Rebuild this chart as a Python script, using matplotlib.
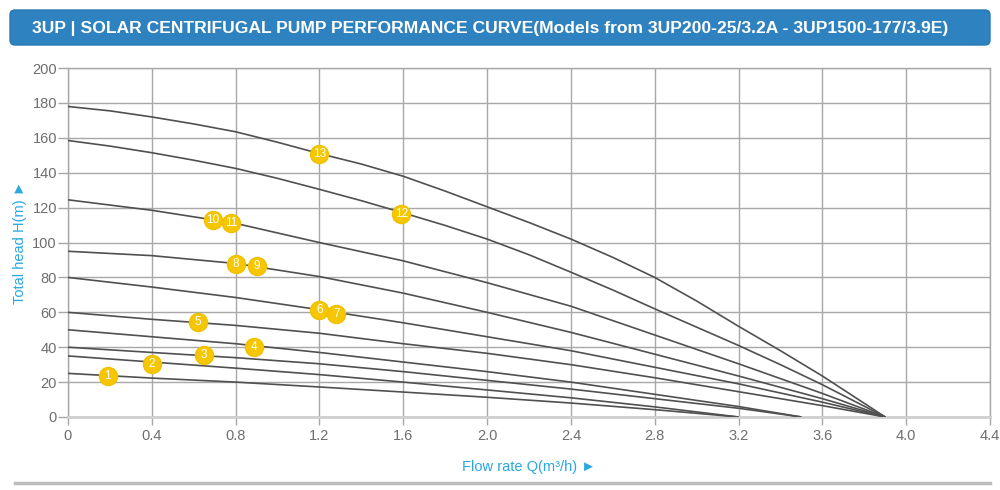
import matplotlib
matplotlib.use("Agg")
import matplotlib.pyplot as plt
from matplotlib.patches import FancyBboxPatch

# flow rate (m3/h) points at which the curves were read
q_39_fine = [0, 0.2, 0.4, 0.6, 0.8, 1.0, 1.2, 1.4, 1.6, 1.8, 2.0, 2.2, 2.4,
             2.6, 2.8, 3.0, 3.2, 3.4, 3.6, 3.9]
q_39 = [0, 0.4, 0.8, 1.2, 1.6, 2.0, 2.4, 2.8, 3.2, 3.6, 3.9]
q_35 = [0, 0.4, 0.8, 1.2, 1.6, 2.0, 2.4, 2.8, 3.2, 3.5]
q_32 = [0, 0.4, 0.8, 1.2, 1.6, 2.0, 2.4, 2.8, 3.2]

# total head (m) of each curve
head_177 = [178, 175.5, 172, 168, 163.5, 157.5, 151, 145, 138, 129.5, 120.5,
            111.5, 102, 91.5, 80, 66.5, 52, 38, 23.5, 0]
head_159 = [158.5, 155.3, 151.5, 147.2, 142.5, 136.8, 130.5, 124, 117, 109.8,
            102, 93, 83, 72.8, 62, 51.5, 41, 30, 18.5, 0]
head_125 = [124.5, 118.5, 111, 100, 89.5, 77, 63.5, 47, 30.5, 13.5, 0]
head_95 = [95, 92.5, 88, 80.5, 71, 60, 48.5, 36, 23.5, 10.5, 0]
head_80 = [80, 74.5, 68.5, 61.5, 54, 46, 38, 28.5, 19, 8.5, 0]
head_60 = [60, 56, 52.5, 48, 42, 36.5, 30, 22.5, 14.5, 6.5, 0]
head_50 = [50, 46, 42, 37, 31.5, 26, 20, 13, 6, 0]
head_40 = [40, 37, 34, 30.5, 26, 21, 16, 10.5, 5, 0]
head_35 = [35, 31.5, 28, 24.3, 20, 15.5, 11, 5.8, 0]
head_25 = [25, 22.3, 20, 17.2, 14.3, 11.3, 8, 4.2, 0]

curves = [
    (q_39_fine, head_177), (q_39_fine, head_159), (q_39, head_125), (q_39, head_95),
    (q_39, head_80), (q_39, head_60), (q_35, head_50), (q_35, head_40),
    (q_32, head_35), (q_32, head_25),
]

# model number badges
badge_num = [1, 2, 3, 4, 5, 6, 7, 8, 9, 10, 11, 12, 13]
badge_q = [0.19, 0.40, 0.65, 0.89, 0.62, 1.20, 1.28, 0.80, 0.90, 0.69, 0.78, 1.59, 1.20]
badge_h = [23.3, 30.1, 35.7, 40.0, 54.3, 61.4, 59.0, 87.7, 86.7, 112.8, 111.0, 116.6, 151.0]

x_ticks = [0, 0.4, 0.8, 1.2, 1.6, 2.0, 2.4, 2.8, 3.2, 3.6, 4.0, 4.4]
x_labels = ["0", "0.4", "0.8", "1.2", "1.6", "2.0", "2.4", "2.8", "3.2", "3.6", "4.0", "4.4"]
y_ticks = list(range(0, 201, 20))

title = "3UP | SOLAR CENTRIFUGAL PUMP PERFORMANCE CURVE(Models from 3UP200-25/3.2A - 3UP1500-177/3.9E)"

fonts = ["Liberation Sans", "DejaVu Sans"]
plt.rcParams["font.family"] = fonts

fig = plt.figure(figsize=(10, 4.9), dpi=100)

# background layer in pixel coordinates
bg = fig.add_axes([0, 0, 1, 1])
bg.set_xlim(0, 1000)
bg.set_ylim(490, 0)
bg.axis("off")
bg.add_patch(FancyBboxPatch((10, 10), 980, 35, boxstyle="round,pad=0,rounding_size=5",
                            fc="#2e82c0", ec="#2a78b2", lw=1))
bg.text(32, 28, title, color="white", fontsize=12.6, fontweight="bold",
        va="center", ha="left")
bg.plot([15, 990], [483, 483], color="#bdbdbd", lw=2.5)

grid_c = "#a8a8a8"
ax = fig.add_axes([0.068, 0.149, 0.922, 0.712])
ax.set_xlim(0, 4.4)
ax.set_ylim(0, 200)
ax.set_xticks(x_ticks)
ax.set_xticklabels(x_labels)
ax.set_yticks(y_ticks)
ax.grid(True, color=grid_c, lw=1)
for s in ax.spines.values():
    s.set_color(grid_c)
    s.set_linewidth(1)
ax.spines["bottom"].set_color("#cfcfcf")
ax.spines["bottom"].set_linewidth(2)
ax.tick_params(axis="both", color=grid_c, width=1, labelcolor="#6e6e6e", labelsize=10.5)
ax.tick_params(axis="y", length=7, pad=1)
ax.tick_params(axis="x", length=6, pad=3)

for q, h in curves:
    ax.plot(q, h, color="#505050", lw=1.2, zorder=3, solid_capstyle="butt")

ax.plot(badge_q, badge_h, "o", ms=13, color="#f6c700", mec="#f0c000", zorder=4)
for n, q, h in zip(badge_num, badge_q, badge_h):
    ax.text(q, h, str(n), color="white", fontsize=8.5, ha="center", va="center", zorder=5)

blue = "#29a8e0"
ax.set_xlabel("Flow rate Q(m³/h) ►", color=blue, fontsize=10.5, labelpad=12)
ax.set_ylabel("Total head H(m) ►", color=blue, fontsize=10.5, labelpad=4)

fig.savefig("out.png", dpi=100)
